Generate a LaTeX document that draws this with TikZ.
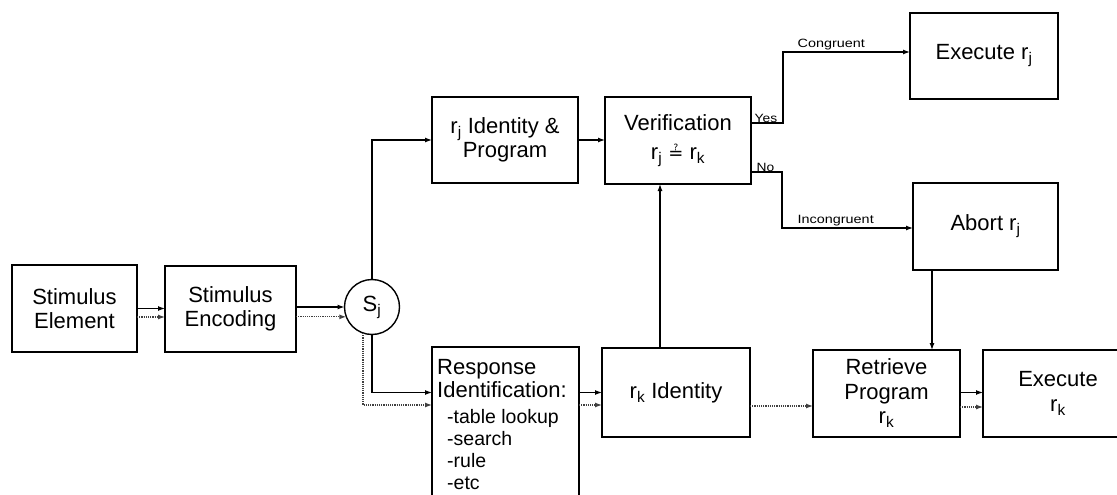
\documentclass[tikz,border=0pt]{standalone}
\usepackage{fontspec}
\setmainfont{Liberation Sans}
\newfontfamily\dejavu{DejaVu Sans}
\usetikzlibrary{arrows.meta,calc}
\begin{document}
\begin{tikzpicture}[x=1pt,y=-1pt,
  box/.style={draw,line width=1.7pt,rectangle,inner sep=0pt,outer sep=0pt,align=center,
    font=\fontsize{22}{24.5}\selectfont},
  arr/.style={line width=1.2pt,-{Latex[length=7pt,width=5pt]}},
  dotarr/.style={line width=1.2pt,densely dotted,black!75,-{Latex[length=7pt,width=5pt]}},
  lbl/.style={inner sep=0.5pt,font=\fontsize{12}{13}\selectfont},
  rtxt/.style={inner sep=0pt,anchor=base west}]
\clip (0,0) rectangle (1117,495);
\fill[white] (0,0) rectangle (1117,495);
% boxes
\node[box,minimum width=125pt,minimum height=87pt] (se) at (74.5,308.5) {Stimulus\\Element};
\node[box,minimum width=131pt,minimum height=86pt] (senc) at (230.5,309) {Stimulus\\Encoding};
\node[draw,circle,line width=1.4pt,minimum size=55pt,inner sep=0pt,outer sep=0pt,
  font=\fontsize{22}{24}\selectfont] (sj) at (372,307) {S\textsubscript{j}};
\node[box,minimum width=146pt,minimum height=86pt] (rj) at (505,140) {r\textsubscript{j} Identity \&\\Program};
\node[box,minimum width=146pt,minimum height=87pt] (ver) at (678,140.5)
  {Verification\\[4pt]r\textsubscript{j} {\dejavu\fontsize{18}{20}\selectfont ≟} r\textsubscript{k}};
\node[box,minimum width=148pt,minimum height=86pt] (exj) at (984,56) {Execute r\textsubscript{j}};
\node[box,minimum width=145pt,minimum height=87pt] (abort) at (985.5,226.5) {Abort r\textsubscript{j}};
\node[box,minimum width=147pt,minimum height=158pt] (resp) at (505.5,426) {};
\node[box,minimum width=148pt,minimum height=89pt] (rk) at (676,392.5) {r\textsubscript{k} Identity};
\node[box,minimum width=147pt,minimum height=87pt] (ret) at (886.5,393.5) {Retrieve\\Program\\r\textsubscript{k}};
\node[box,minimum width=150pt,minimum height=87pt] (exk) at (1058,393.5) {Execute\\r\textsubscript{k}};
% response identification text
\begin{scope}[font=\fontsize{22}{24}\selectfont]
\node[rtxt] (t1) at (437,374) {Response};
\node[rtxt] (t2) at (437,397) {Identification:};
\end{scope}
\begin{scope}[font=\fontsize{19.5}{22}\selectfont]
\node[rtxt] (t3) at (447,423) {-table lookup};
\node[rtxt] (t4) at (447,445) {-search};
\node[rtxt] (t5) at (447,467) {-rule};
\node[rtxt] (t6) at (447,489) {-etc};
\end{scope}
% helper coordinates
\coordinate (d1) at (0,405);
\coordinate (d2) at (0,406);
\coordinate (d3) at (0,407);
\coordinate (sd) at (0,317);
\coordinate (xv) at (660,0);
\coordinate (xa) at (932,0);
\coordinate (yes1) at (783,123);
\coordinate (cong) at (783,52);
\coordinate (no1) at (782,172);
\coordinate (incong) at (782,228);
% connectors
\draw[arr] (se.east) -- (senc.west |- se.east);
\draw[dotarr] (se.east |- sd) -- (senc.west |- sd);
\draw[arr] (senc.east |- sj.west) -- (sj.west);
\draw[dotarr] (senc.east |- sj.201) -- (sj.201);
\draw[arr] (sj.north) |- (rj.west);
\draw[arr] (sj.south) |- (resp.west |- rk.west);
\draw[dotarr] (sj.251) |- (resp.west |- d1);
\draw[arr] (resp.east |- rk.west) -- (rk.west);
\draw[dotarr] (resp.east |- d1) -- (rk.west |- d1);
\draw[arr] (rj.east) -- (ver.west |- rj.east);
\draw[arr] (rk.north -| xv) -- (ver.south -| xv);
\draw[arr] (ver.east |- yes1) -- (yes1) -- (cong) -- (exj.west |- cong);
\draw[arr] (ver.east |- no1) -- (no1) -- (incong) -- (abort.west |- incong);
\draw[arr] (abort.south -| xa) -- (ret.north -| xa);
\draw[dotarr] (rk.east |- d2) -- (ret.west |- d2);
\draw[arr] (ret.east |- rk.west) -- (exk.west |- rk.west);
\draw[dotarr] (ret.east |- d3) -- (exk.west |- d3);
% labels
\node[lbl,anchor=south west] (lyes) at (754,123) {\scalebox{1.15}[1]{Yes}};
\node[lbl,anchor=south west] (lno) at (756,172) {\scalebox{1.15}[1]{No}};
\node[lbl,anchor=south west] (lcong) at (797,51) {\scalebox{1.2}[1]{Congruent}};
\node[lbl,anchor=south west] (linc) at (797,227) {\scalebox{1.2}[1]{Incongruent}};
\end{tikzpicture}
\end{document}
